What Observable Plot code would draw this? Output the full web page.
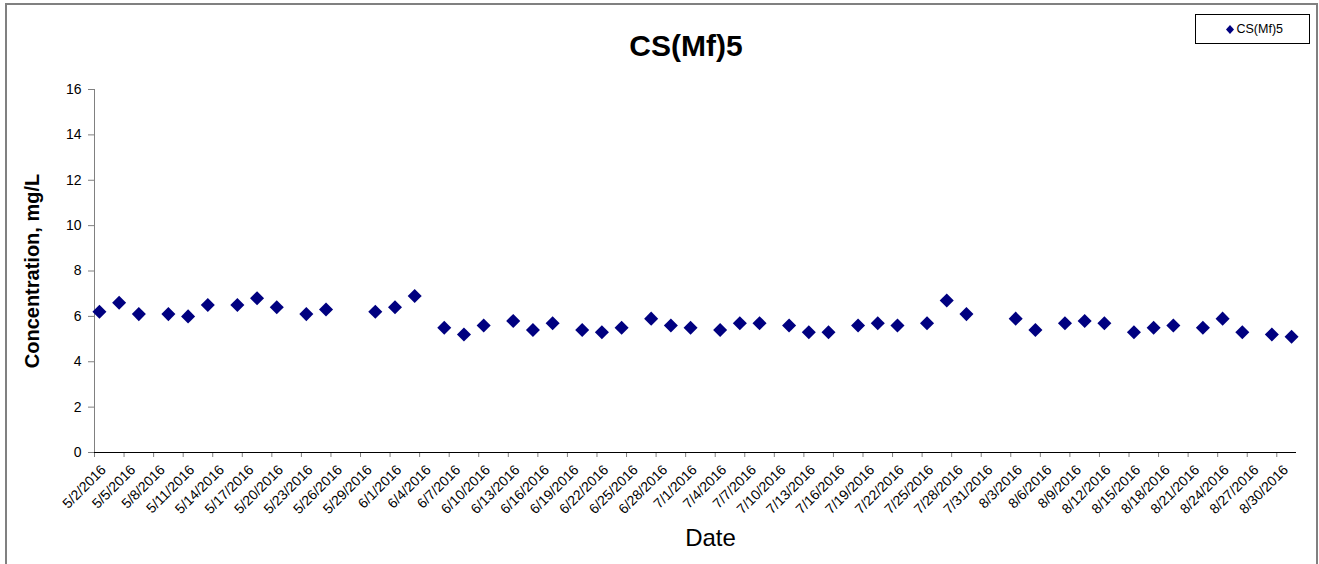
<!DOCTYPE html>
<html><head><meta charset="utf-8">
<script src="https://cdn.jsdelivr.net/npm/d3@7"></script>
<script src="https://cdn.jsdelivr.net/npm/@observablehq/plot@0.6"></script>
<style>
body{margin:0;background:#fff;overflow:hidden;}
#wrap{position:relative;width:1319px;height:564px;overflow:hidden;font-family:"Liberation Sans",Arial,sans-serif;}
#frame{position:absolute;left:5px;top:3px;width:1309px;height:620px;border:2px solid #808080;}
#chart{position:absolute;left:0;top:0;}
#title{position:absolute;left:486px;width:400px;top:29px;text-align:center;font-weight:bold;font-size:30px;line-height:34px;color:#000;}
#legend{position:absolute;left:1195px;top:14px;width:113px;height:28px;border:1px solid #000;background:#fff;font-size:12.5px;display:flex;align-items:center;color:#000;}
#legend svg{margin-left:30px;}
#legend span{margin-left:2.5px;}
</style></head>
<body>
<div id="wrap">
  <div id="frame"></div>
  <div id="chart"></div>
  <div id="title"></div>
  <div id="legend"></div>
</div>
<script>
// ---- data ----
const chartTitle = "CS(Mf)5";
const seriesName = "CS(Mf)5";
const xTitle = "Date";
const yTitle = "Concentration, mg/L";
const sampleDates = ["5/2/2016","5/4/2016","5/6/2016","5/9/2016","5/11/2016","5/13/2016","5/16/2016","5/18/2016","5/20/2016","5/23/2016","5/25/2016","5/30/2016","6/1/2016","6/3/2016","6/6/2016","6/8/2016","6/10/2016","6/13/2016","6/15/2016","6/17/2016","6/20/2016","6/22/2016","6/24/2016","6/27/2016","6/29/2016","7/1/2016","7/4/2016","7/6/2016","7/8/2016","7/11/2016","7/13/2016","7/15/2016","7/18/2016","7/20/2016","7/22/2016","7/25/2016","7/27/2016","7/29/2016","8/3/2016","8/5/2016","8/8/2016","8/10/2016","8/12/2016","8/15/2016","8/17/2016","8/19/2016","8/22/2016","8/24/2016","8/26/2016","8/29/2016","8/31/2016"];
const concentrations = [6.2,6.6,6.1,6.1,6.0,6.5,6.5,6.8,6.4,6.1,6.3,6.2,6.4,6.9,5.5,5.2,5.6,5.8,5.4,5.7,5.4,5.3,5.5,5.9,5.6,5.5,5.4,5.7,5.7,5.6,5.3,5.3,5.6,5.7,5.6,5.7,6.7,6.1,5.9,5.4,5.7,5.8,5.7,5.3,5.5,5.6,5.5,5.9,5.3,5.2,5.1];
const xTickLabels = ["5/2/2016","5/5/2016","5/8/2016","5/11/2016","5/14/2016","5/17/2016","5/20/2016","5/23/2016","5/26/2016","5/29/2016","6/1/2016","6/4/2016","6/7/2016","6/10/2016","6/13/2016","6/16/2016","6/19/2016","6/22/2016","6/25/2016","6/28/2016","7/1/2016","7/4/2016","7/7/2016","7/10/2016","7/13/2016","7/16/2016","7/19/2016","7/22/2016","7/25/2016","7/28/2016","7/31/2016","8/3/2016","8/6/2016","8/9/2016","8/12/2016","8/15/2016","8/18/2016","8/21/2016","8/24/2016","8/27/2016","8/30/2016"];
const xDomain = ["5/2/2016","9/1/2016"];
const yTicks = [0,2,4,6,8,10,12,14,16];

// ---- build ----
const parse = d3.utcParse("%m/%d/%Y");
const data = sampleDates.map((d, i) => ({date: parse(d), value: concentrations[i]}));
const tickDates = xTickLabels.map(parse);
const navy = "#000080";
const font = "'Liberation Sans', Arial, sans-serif";

// diamond (rotated square) symbol
const diamond = {
  draw(ctx, size) {
    const a = Math.sqrt(size / 2);
    ctx.moveTo(0, -a); ctx.lineTo(a, 0); ctx.lineTo(0, a); ctx.lineTo(-a, 0); ctx.closePath();
  }
};

const chart = Plot.plot({
  width: 1319,
  height: 564,
  marginLeft: 94,
  marginRight: 23,
  marginTop: 89,
  marginBottom: 112,
  style: {fontFamily: font, background: "transparent", color: "#000"},
  x: {type: "utc", domain: xDomain.map(parse)},
  y: {domain: [0, 16]},
  marks: [
    Plot.axisY({ticks: yTicks, tickSize: 6, tickPadding: 7, fontSize: 14, stroke: "#808080", label: null, tickFormat: d => d}),
    Plot.axisX({ticks: tickDates, tickSize: 5, stroke: "#808080", tickFormat: () => "", label: null}),
    Plot.ruleX([parse(xDomain[0])], {stroke: "#808080", strokeWidth: 1}),
    Plot.ruleY([0], {stroke: "#000", strokeWidth: 1}),
    Plot.text(tickDates, {x: d => d, text: (d, i) => xTickLabels[i], frameAnchor: "bottom", rotate: -45, textAnchor: "end", lineAnchor: "middle", dx: 9, dy: 15, fontSize: 14, fill: "#000"}),
    Plot.text([yTitle], {frameAnchor: "left", textAnchor: "middle", lineAnchor: "middle", dx: -62, rotate: -90, fontSize: 20, fontWeight: "bold", fill: "#000"}),
    Plot.text([xTitle], {frameAnchor: "bottom", textAnchor: "middle", lineAnchor: "middle", dx: 15, dy: 86, fontSize: 24, fill: "#000"}),
    Plot.dot(data, {x: d => d3.utcHour.offset(d.date, 12), y: "value", symbol: diamond, r: 5.6, fill: navy, stroke: "none"})
  ]
});
document.getElementById("chart").appendChild(chart);
document.getElementById("title").textContent = chartTitle;
document.getElementById("legend").innerHTML =
  `<svg width="8" height="9" viewBox="-4 -4.5 8 9"><path d="M0,-4.5L4,0L0,4.5L-4,0Z" fill="${navy}"/></svg><span></span>`;
document.querySelector("#legend span").textContent = seriesName;
</script>
</body></html>
